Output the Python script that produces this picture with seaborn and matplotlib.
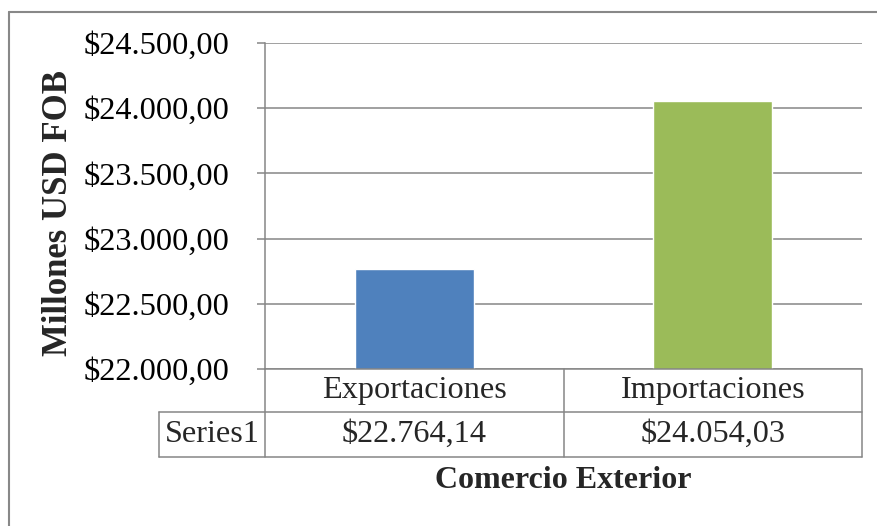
import matplotlib
matplotlib.use("Agg")
import matplotlib.pyplot as plt
import matplotlib.transforms as mtransforms
from matplotlib.lines import Line2D
import seaborn as sns
import pandas as pd

categories = ["Exportaciones", "Importaciones"]
values = [22764.14, 24054.03]
series_name = "Series1"
colors = ["#4F81BD", "#9BBB59"]
y_ticks = [22000, 22500, 23000, 23500, 24000, 24500]
y_label = "Millones USD FOB"
x_label = "Comercio Exterior"

def fmt(v):
    s = f"{v:,.2f}"
    s = s.replace(",", "X").replace(".", ",").replace("X", ".")
    return "$" + s

sns.set_theme(style="white")
plt.rcParams['font.family'] = ['Liberation Serif', 'DejaVu Serif']

W, H = 878, 526
fig = plt.figure(figsize=(W / 100, H / 100), dpi=100)
L, R, T, B = 265, 862, 43, 369
ax = fig.add_axes([L / W, 1 - B / H, (R - L) / W, (B - T) / H])

df = pd.DataFrame({"cat": categories, "val": values})
sns.barplot(data=df, x="cat", y="val", hue="cat", palette=colors, width=0.4,
            legend=False, ax=ax, zorder=3, saturation=1)
ax.set_xlim(-0.5, len(categories) - 0.5)
ax.set_ylim(y_ticks[0], y_ticks[-1])
ax.set_yticks(y_ticks)
ax.set_yticklabels([fmt(v) for v in y_ticks], fontsize=23.3, color="black")
ax.tick_params(axis="y", length=5.8, width=1.1, color="#868686", pad=19.5, left=True)
ax.set_xticks([])
ax.set_xlabel("")
ax.set_ylabel("")
grid_c = "#868686"
ax.grid(axis="y", color=grid_c, linewidth=1.1, zorder=0)
for s in ["top", "right", "bottom"]:
    ax.spines[s].set_visible(False)
ax.spines["left"].set_color(grid_c)
ax.spines["left"].set_linewidth(1.1)

# data table (in axes coordinates, below the plot)
ph = B - T
pw = R - L
def ya(py):
    return (B - py) / ph
def xa(px):
    return (px - L) / pw
row1_bot, row2_bot = 412, 457
left_tab = 159
tc = grid_c
lw = 1.1
lines = [
    ((xa(L), xa(R)), (ya(B), ya(B))),
    ((xa(left_tab), xa(R)), (ya(row1_bot), ya(row1_bot))),
    ((xa(left_tab), xa(R)), (ya(row2_bot), ya(row2_bot))),
    ((xa(L), xa(L)), (ya(B), ya(row2_bot))),
    ((0.5, 0.5), (ya(B), ya(row2_bot))),
    ((1.0, 1.0), (ya(B), ya(row2_bot))),
    ((xa(left_tab), xa(left_tab)), (ya(row1_bot), ya(row2_bot))),
]
for xs, ys in lines:
    ax.add_line(Line2D(xs, ys, transform=ax.transAxes, color=tc, lw=lw,
                       clip_on=False, zorder=4))

blend = mtransforms.blended_transform_factory(ax.transData, ax.transAxes)
for i, (c, v) in enumerate(zip(categories, values)):
    ax.text(i, ya((B + row1_bot) / 2), c, transform=blend, ha="center",
            va="center", fontsize=23.2, clip_on=False)
    ax.text(i, ya((row1_bot + row2_bot) / 2), fmt(v), transform=blend,
            ha="center", va="center", fontsize=23.2, clip_on=False)
ax.text(xa((left_tab + L) / 2), ya((row1_bot + row2_bot) / 2), series_name,
        transform=ax.transAxes, ha="center", va="center", fontsize=23.2,
        clip_on=False)

# axis titles
fig.text(59 / W, 1 - 213 / H, y_label, rotation=90, ha="center", va="center",
         fontsize=25, fontweight="bold")
fig.text(563 / W, 1 - 481 / H, x_label, ha="center", va="center",
         fontsize=23, fontweight="bold")

# outer chart border (partially cropped)
bc = "#888888"
fig.add_artist(Line2D([9 / W, 9 / W], [0, 1 - 12 / H], transform=fig.transFigure,
                      color=bc, lw=1.5))
fig.add_artist(Line2D([9 / W, 1], [1 - 12 / H, 1 - 12 / H], transform=fig.transFigure,
                      color=bc, lw=1.5))

fig.savefig("out.png", dpi=100, facecolor="white")
